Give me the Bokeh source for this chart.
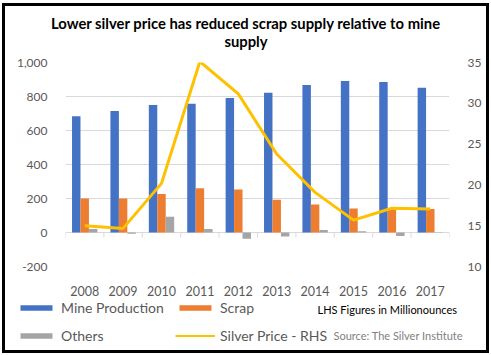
from bokeh.plotting import figure
from bokeh.models import (FactorRange, Range1d, LinearAxis, FixedTicker, NumeralTickFormatter,
                          Label, Legend, LegendItem)
from bokeh.transform import dodge
from bokeh.embed import file_html
from bokeh.resources import INLINE

years = ["2008", "2009", "2010", "2011", "2012", "2013", "2014", "2015", "2016", "2017"]
mine_production = [684, 714, 750, 757, 791, 822, 868, 891, 886, 852]
scrap = [200, 200, 227, 261, 253, 192, 164, 141, 144, 138]
others = [20, -8, 92, 20, -37, -24, 14, 8, -20, 1]
silver_price = [14.99, 14.67, 20.19, 35.12, 31.15, 23.79, 19.08, 15.68, 17.14, 17.05]
left_ticks = [-200, 0, 200, 400, 600, 800, 1000]
right_ticks = [10, 15, 20, 25, 30, 35]
title_lines = ["Lower silver price has reduced scrap supply relative to mine", "supply"]

FONT = "Lato"
W = 481           # inner width of the bordered box
X0 = 2            # outer left of the bordered box
B = 3             # border width
T_TOP, M_TOP, L_TOP, L_BOT = 6, 54, 300, 350   # page y of the three bands


def css(top, sides):
    st = {"position": "absolute", "left": f"{X0}px", "top": f"{top - (B if 'top' in sides else 0)}px",
          "box-sizing": "content-box", "background": "white"}
    for s in ("top", "left", "right", "bottom"):
        st[f"border-{s}"] = f"{B}px solid black" if s in sides else "0px"
    return st


def blank_fig(h, styles):
    f = figure(width=W, height=h, output_backend="svg", toolbar_location=None,
               x_range=Range1d(0, 1), y_range=Range1d(0, 1),
               x_axis_location=None, y_axis_location=None,
               min_border=0, min_border_left=0, min_border_right=0,
               min_border_top=0, min_border_bottom=0, styles=styles)
    f.outline_line_color = None
    f.xgrid.visible = False
    f.ygrid.visible = False
    return f


# ---------- title band ----------
TH = M_TOP - T_TOP
tf = blank_fig(TH, css(T_TOP, ("top", "left", "right")))
for i, t in enumerate(title_lines):
    tf.add_layout(Label(x=240.5, y=TH - (13 + 18 * i), x_units="screen", y_units="screen",
                        text=t, text_align="center", text_baseline="middle",
                        text_font=FONT, text_font_style="bold", text_font_size="14.8px",
                        text_color="black"))

# ---------- main chart ----------
MH = L_TOP - M_TOP
FL, FR = 60, 438
BT, FH = 8, 204
BB = MH - BT - FH
p = figure(width=W, height=MH, output_backend="svg", toolbar_location=None,
           x_range=FactorRange(*years), y_range=Range1d(left_ticks[0], left_ticks[-1]),
           min_border_left=FL, min_border_right=W - FR, min_border_top=BT, min_border_bottom=BB,
           styles=css(M_TOP, ("left", "right")))
p.x_range.range_padding = 0
p.outline_line_color = None
p.extra_y_ranges = {"price": Range1d(right_ticks[0], right_ticks[-1])}

p.xgrid.grid_line_color = None
p.ygrid.grid_line_color = "#D9D9D9"
p.ygrid.ticker = FixedTicker(ticks=left_ticks)

ya = p.yaxis[0]
ya.ticker = FixedTicker(ticks=left_ticks)
ya.formatter = NumeralTickFormatter(format="0,0")

ra = LinearAxis(y_range_name="price", ticker=FixedTicker(ticks=right_ticks))
p.add_layout(ra, "right")

for ax in (ya, ra):
    ax.axis_line_color = None
    ax.major_tick_line_color = None
    ax.minor_tick_line_color = None
    ax.major_tick_out = 0
    ax.major_tick_in = 0
    ax.major_label_standoff = 18
    ax.major_label_text_font = FONT
    ax.major_label_text_font_size = "12px"
    ax.major_label_text_color = "#595959"

xa = p.xaxis[0]
xa.axis_line_color = None
xa.major_tick_line_color = None
xa.major_tick_out = 0
xa.major_tick_in = 0
xa.major_label_standoff = 19
xa.major_label_text_font = FONT
xa.major_label_text_font_size = "12.5px"
xa.major_label_text_color = "#595959"

# category boundary ticks below the zero line
n = len(years)
bounds = list(range(n + 1))
p.segment(x0=bounds, x1=bounds, y0=[0] * (n + 1), y1=[-30] * (n + 1),
          line_color="#D9D9D9", line_width=1)

src = dict(year=years, mine=mine_production, scrap=scrap, others=others, price=silver_price)
bw = 0.22
r_mine = p.vbar(x=dodge("year", -bw, range=p.x_range), top="mine", width=bw, source=src,
                fill_color="#4472C4", line_color=None)
r_scrap = p.vbar(x=dodge("year", 0, range=p.x_range), top="scrap", width=bw, source=src,
                 fill_color="#ED7D31", line_color=None)
r_oth = p.vbar(x=dodge("year", bw, range=p.x_range), top="others", width=bw, source=src,
               fill_color="#A5A5A5", line_color=None)
r_price = p.line(x="year", y="price", source=src, y_range_name="price",
                 line_color="#FFC000", line_width=3)

# ---------- legend band ----------
LH = L_BOT - L_TOP
lf = blank_fig(LH, css(L_TOP, ("left", "right", "bottom")))
# legend swatch renderers (one point each, outside the visible range)
lr_mine = lf.vbar(x=[-5], top=[-5], width=0.1, fill_color="#4472C4", line_color=None)
lr_scrap = lf.vbar(x=[-5], top=[-5], width=0.1, fill_color="#ED7D31", line_color=None)
lr_oth = lf.vbar(x=[-5], top=[-5], width=0.1, fill_color="#A5A5A5", line_color=None)
lr_price = lf.line(x=[-5, -4], y=[-5, -5], line_color="#FFC000", line_width=2)


def mk_legend(items, y):
    lg = Legend(items=items, location=(11, y), orientation="horizontal",
                glyph_width=40, glyph_height=7, label_standoff=5, label_width=114,
                label_height=16, spacing=0, padding=0, margin=0,
                border_line_alpha=0, background_fill_alpha=0,
                label_text_font=FONT, label_text_font_size="14px",
                label_text_color="#595959")
    lf.add_layout(lg, "center")


mk_legend([LegendItem(label="Mine Production", renderers=[lr_mine]),
           LegendItem(label="Scrap", renderers=[lr_scrap])], LH - 13)
mk_legend([LegendItem(label="Others", renderers=[lr_oth]),
           LegendItem(label="Silver Price - RHS", renderers=[lr_price])], LH - 41)

lf.add_layout(Label(x=312, y=LH - 6, x_units="screen", y_units="screen",
                    text="LHS Figures in Millionounces", text_baseline="middle",
                    text_font=FONT, text_font_size="11px", text_color="black"))
lf.add_layout(Label(x=328, y=LH - 32, x_units="screen", y_units="screen",
                    text="Source: The Silver Institute", text_baseline="middle",
                    text_font=FONT, text_font_size="11px", text_color="#808080"))

open("out.html", "w").write(file_html([tf, p, lf], INLINE))
